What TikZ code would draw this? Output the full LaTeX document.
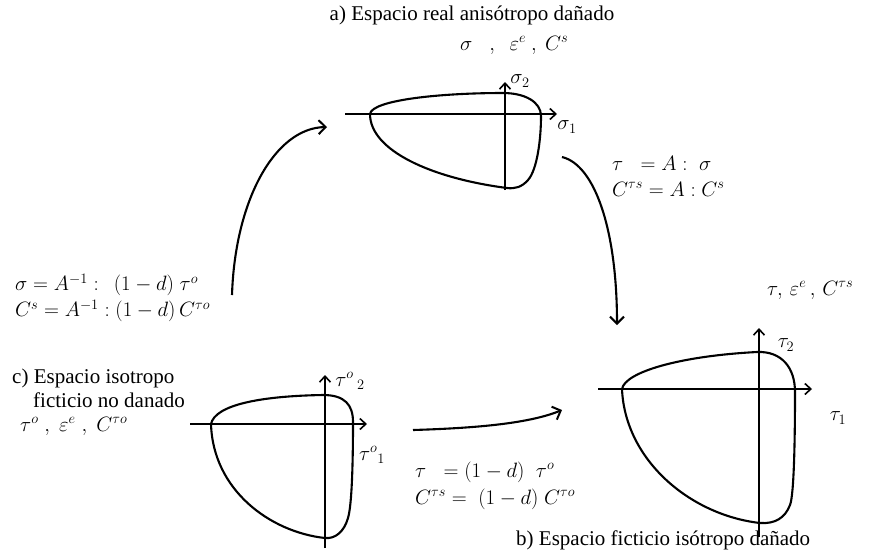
\documentclass[tikz,border=0pt]{standalone}
\usepackage{fontspec}
\setmainfont{Liberation Serif}
\usetikzlibrary{arrows.meta}
\begin{document}
\begin{tikzpicture}[x=1pt,y=-1pt,
  curve/.style={line width=2.1pt},
  axis/.style={line width=1.5pt,-{Straight Barb[length=6pt,width=11pt,line width=1.6pt]}},
  flow/.style={line width=2.1pt,-{Straight Barb[length=7pt,width=14pt,line width=2pt]}},
  lbl/.style={inner sep=0pt,font=\fontsize{21}{25}\selectfont},
  eq/.style={inner sep=0pt,anchor=west,font=\fontsize{21}{25}\selectfont}]
\useasboundingbox (0,0) rectangle (880,558);

% ---- shape a ----
\draw[curve] (370,114) .. controls (372,100) and (440,93) .. (503,93)
  .. controls (525,93) and (541,102) .. (541,116)
  .. controls (541,140) and (537,170) .. (528,180)
  .. controls (522,187) and (515,189) .. (507,188)
  .. controls (430,178) and (370,150) .. (370,114) -- cycle;
\draw[axis] (345,114) -- (557,114);
\draw[axis] (505,190) -- (505,82);
\node[lbl] (s2) at (520,81) {$\sigma_2$};
\node[lbl] (s1) at (567,127) {$\sigma_1$};

% ---- shape b ----
\draw[curve] (622,389) .. controls (625,372) and (680,356) .. (757,352)
  .. controls (782,351) and (795,368) .. (795,392)
  .. controls (795,440) and (794,495) .. (790,505)
  .. controls (785,518) and (775,524) .. (760,523)
  .. controls (690,515) and (625,460) .. (622,389) -- cycle;
\draw[axis] (598,389) -- (812,389);
\draw[axis] (759,537) -- (759,328);
\node[lbl] (t2) at (786,345) {$\tau_2$};
\node[lbl] (t1) at (838,418) {$\tau_1$};

% ---- shape c ----
\draw[curve] (211,424) .. controls (215,405) and (260,396) .. (323,395)
  .. controls (345,395) and (353,405) .. (353,422)
  .. controls (353,460) and (352,505) .. (348,518)
  .. controls (344,532) and (335,539) .. (325,538)
  .. controls (270,532) and (213,490) .. (211,424) -- cycle;
\draw[axis] (190,424) -- (367,424);
\draw[axis] (325,548) -- (325,375);
\node[lbl] (o2) at (350,381) {$\tau^{o}\,{}_{2}$};
\node[lbl] (o1) at (372,455) {$\tau^{o}{}_{1}$};

% ---- texts ----
\node[lbl] (ta) at (472,15) {a) Espacio real anisótropo dañado};
\node[eq] (va) at (460,45) {$\sigma\hspace{17pt},\hspace{11pt}\varepsilon^{e}\hspace{5pt},\hspace{5pt}C^{s}$};
\node[eq] (r1) at (612,163) {$\tau\;\;=A:\;\sigma$};
\node[eq] (r2) at (612,189) {$C^{\tau s}=A:C^{s}$};
\node[eq] (vb) at (767,290) {$\tau,\,\varepsilon^{e}\,,\,C^{\tau s}$};
\node[eq] (l1) at (15,285) {$\sigma=A^{-1}:\;\,(1-d)\;\tau^{o}$};
\node[eq] (l2) at (15,311) {$C^{s}=A^{-1}:(1-d)\,C^{\tau o}$};
\node[eq] (tc1) at (12,378) {c) Espacio isotropo};
\node[eq] (tc2) at (33,400) {ficticio no danado};
\node[eq] (vc) at (20,426) {$\tau^{o}\;,\;\varepsilon^{e}\;,\;C^{\tau o}$};
\node[eq] (b1) at (415,472) {$\tau\;\;=(1-d)\;\;\tau^{o}$};
\node[eq] (b2) at (415,499) {$C^{\tau s}=\;(1-d)\;C^{\tau o}$};
\node[eq] (tb) at (516,540) {b) Espacio ficticio isótropo dañado};

% ---- flow arrows ----
\coordinate (f1s) at (232,295);
\coordinate (f1e) at (327,127);
\coordinate (f2s) at (562,157);
\coordinate (f2e) at (617,325);
\coordinate (f3s) at (413,430);
\coordinate (f3e) at (562,410);
\draw[flow] (f1s) .. controls (235,200) and (275,128) .. (f1e);
\draw[flow] (f2s) .. controls (595,165) and (617,230) .. (f2e);
\draw[flow] (f3s) .. controls (480,428) and (530,423) .. (f3e);
\end{tikzpicture}
\end{document}
